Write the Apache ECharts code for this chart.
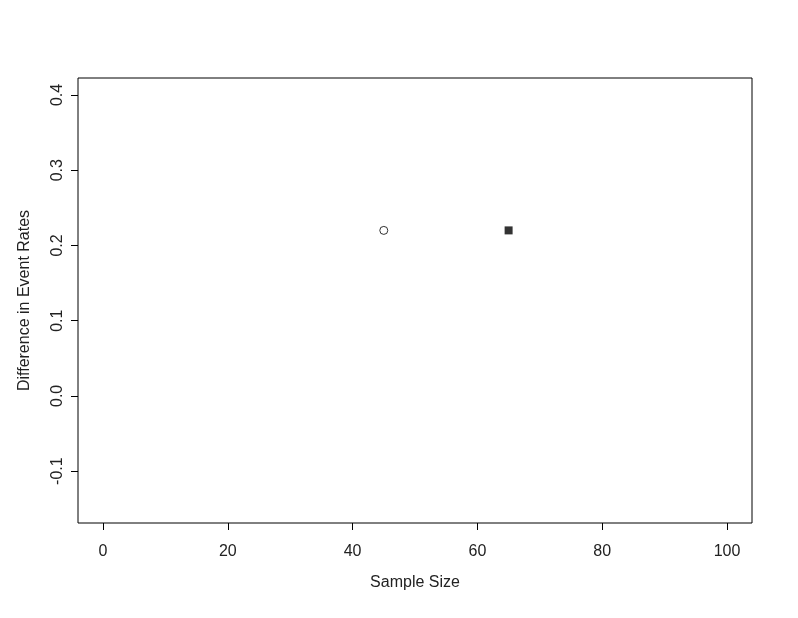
<!DOCTYPE html>
<html><head><meta charset="utf-8">
<script src="https://cdn.jsdelivr.net/npm/echarts@6/dist/echarts.min.js"></script>
<style>html,body{margin:0;padding:0;background:#fff}#c{width:798px;height:618px}</style>
</head><body><div id="c"></div>
<script>
const xTicks = [0, 20, 40, 60, 80, 100];
const yTicks = [-0.1, 0.0, 0.1, 0.2, 0.3, 0.4];
const openPoints = [[45, 0.22]];
const filledPoints = [[65, 0.22]];
const xTitle = 'Sample Size';
const yTitle = 'Difference in Event Rates';

const font = {fontFamily: 'Liberation Sans, Arial, sans-serif', fontSize: 16, color: '#222'};
const chart = echarts.init(document.getElementById('c'), null, {renderer: 'canvas'});
chart.setOption({
  animation: false,
  backgroundColor: '#fff',
  grid: {left: 78, right: 46, top: 78, bottom: 95, show: true, borderColor: '#000', borderWidth: 1, backgroundColor: 'transparent'},
  xAxis: {
    type: 'value', min: -4, max: 104, position: 'bottom',
    name: xTitle, nameLocation: 'middle', nameGap: 52, nameTextStyle: font,
    axisLine: {show: false, onZero: false},
    splitLine: {show: false},
    axisTick: {show: true, inside: false, length: 7, customValues: xTicks, lineStyle: {color: '#000'}},
    axisLabel: Object.assign({show: true, margin: 21, customValues: xTicks, formatter: v => String(v)}, font)
  },
  yAxis: {
    type: 'value', min: -0.169, max: 0.4226, position: 'left',
    name: yTitle, nameLocation: 'middle', nameGap: 45, nameTextStyle: font, nameRotate: 90,
    axisLine: {show: false, onZero: false},
    splitLine: {show: false},
    axisTick: {show: true, inside: false, length: 7, customValues: yTicks, lineStyle: {color: '#000'}},
    axisLabel: Object.assign({show: true, rotate: 90, margin: 12, customValues: yTicks, formatter: v => v.toFixed(1)}, font)
  },
  series: [
    {type: 'scatter', data: openPoints, symbol: 'circle', symbolSize: 8,
     itemStyle: {color: '#fff', borderColor: '#000', borderWidth: 1}},
    {type: 'scatter', data: filledPoints, symbol: 'rect', symbolSize: 8,
     itemStyle: {color: '#000'}}
  ]
});
</script></body></html>
